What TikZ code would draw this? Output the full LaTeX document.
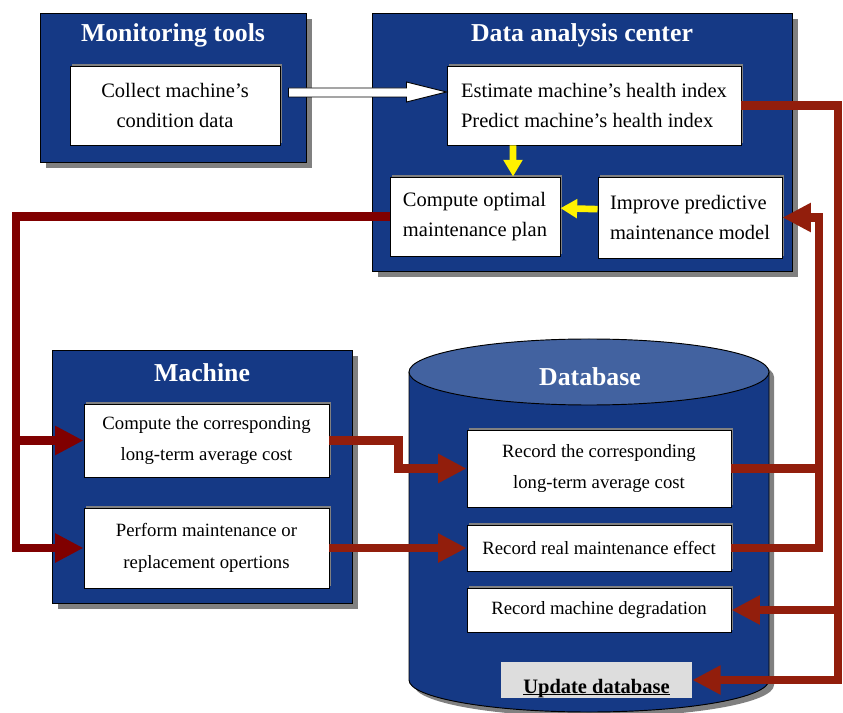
\documentclass[tikz,border=0pt]{standalone}
\usepackage{fontspec}
\setmainfont{Liberation Serif}
\usetikzlibrary{arrows.meta,shadows,calc}

\definecolor{frameblue}{RGB}{21,57,133}
\definecolor{lidblue}{RGB}{66,98,160}
\definecolor{shadowgray}{RGB}{128,128,128}
\definecolor{plandark}{RGB}{128,0,0}
\definecolor{recred}{RGB}{146,30,12}
\definecolor{updgray}{RGB}{221,221,221}

\begin{document}
\begin{tikzpicture}[x=0.03cm,y=-0.03cm,
  frame/.style={draw,line width=0.8pt,fill=frameblue,inner sep=0pt,
    general shadow={fill=shadowgray,shadow xshift=0.18cm,shadow yshift=-0.18cm}},
  task/.style={draw,line width=0.8pt,fill=white,inner sep=0pt,
    general shadow={fill=shadowgray,shadow xshift=0.06cm,shadow yshift=0.06cm},
    font=\fontsize{17.5}{25.5}\selectfont},
  dbtask/.style={task,align=center,font=\fontsize{16}{27}\selectfont},
  title/.style={text=white,font=\fontsize{22}{26}\selectfont\bfseries},
  planwire/.style={plandark,line width=0.25cm},
  recwire/.style={recred,line width=0.25cm},
  planline/.style={planwire,-{Triangle[length=0.85cm,width=0.82cm]}},
  recline/.style={recwire,-{Triangle[length=0.85cm,width=0.82cm]}},
  flowarrow/.style={yellow,line width=0.2cm,-{Triangle[length=0.5cm,width=0.55cm]}}]

\useasboundingbox (0,0) rectangle (843,713);

% monitoring tools
\node[frame,minimum width=7.98cm,minimum height=4.47cm] (mon) at (173,87.5) {};
\node[title] (montitle) at (173,35) {Monitoring tools};
\node[task,align=center,minimum width=6.3cm,minimum height=2.37cm] (collect) at (175,105.5) {Collect machine's\\condition data};

% data analysis center
\node[frame,minimum width=12.6cm,minimum height=7.74cm] (dac) at (582,142) {};
\node[title] (dactitle) at (582,35) {Data analysis center};
\node[task,align=left,minimum width=8.82cm,minimum height=2.37cm] (est) at (594,105.5) {Estimate machine's health index\\Predict machine's health index};
\node[task,align=left,minimum width=5.1cm,minimum height=2.37cm] (opt) at (475,216.5) {Compute optimal\\maintenance plan};
\node[task,align=left,minimum width=5.52cm,minimum height=2.43cm] (imp) at (690,217.5) {Improve predictive\\maintenance model};

% machine
\node[frame,minimum width=9cm,minimum height=7.59cm] (mach) at (202,476.5) {};
\node[title] (machtitle) at (202,373) {Machine};
\node[dbtask,minimum width=7.35cm,minimum height=2.19cm] (cost) at (206.5,440.5) {Compute the corresponding\\long-term average cost};
\node[dbtask,minimum width=7.35cm,minimum height=2.4cm] (perf) at (206.5,548) {Perform maintenance or\\replacement opertions};

% database
\fill[shadowgray] (414,377) -- (414,685) arc[start angle=180,end angle=360,x radius=5.4cm,y radius=0.96cm]
  -- (774,377) arc[start angle=0,end angle=180,x radius=5.4cm,y radius=0.99cm] -- cycle;
\draw[line width=0.8pt,fill=frameblue] (409,372) -- (409,680) arc[start angle=180,end angle=360,x radius=5.4cm,y radius=0.96cm] -- (769,372);
\draw[line width=0.8pt,fill=lidblue] (589,372) ellipse[x radius=5.4cm,y radius=0.99cm];
\node[title] (dbtitle) at (590,377) {Database};
\node[dbtask,minimum width=7.92cm,minimum height=2.31cm] (rcost) at (599,468.5) {Record the corresponding\\long-term average cost};
\node[dbtask,minimum width=7.92cm,minimum height=1.38cm] (rreal) at (599,548) {Record real maintenance effect};
\node[dbtask,minimum width=7.92cm,minimum height=1.32cm] (rdeg) at (599,610) {Record machine degradation};
\node[fill=updgray,inner sep=0pt,minimum width=5.73cm,minimum height=1.08cm,
  font=\fontsize{17.5}{21}\selectfont\bfseries] (upd) at (596.5,680) {\rule{0pt}{0.85cm}\underline{\smash{Update database}}};

% condition data goes to the analysis
\draw[line width=0.8pt,fill=white] ($(collect.east)+(8,-17.5)$) -- ($(est.west)+(-40,-17.5)$)
  -- ($(est.west)+(-40,-23.5)$) -- ($(est.west)+(0,-13.5)$) -- ($(est.west)+(-40,-3.5)$)
  -- ($(est.west)+(-40,-8.5)$) -- ($(collect.east)+(8,-8.5)$) -- cycle;

% inside the analysis center
\draw[flowarrow] ([xshift=-2.43cm]est.south) -- ([xshift=1.14cm]opt.north);
\draw[flowarrow] ([yshift=0.25cm]imp.west) -- ([yshift=0.25cm]opt.east);

% plan sent to the machine
\coordinate (lbus) at (16,440.5);
\draw[planline] (opt.west) -| (lbus) -- (cost.west);
\draw[planline] (lbus) |- (perf.west);

% machine results into the database
\draw[recline] (cost.east) -- ++(69,0) |- (rcost.west);
\draw[recline] (perf.east) -- (rreal.west);

% database back to the model
\coordinate (mbus) at (819,468.5);
\draw[recline] (rreal.east) -| (mbus) |- (imp.east);
\draw[recwire] (rcost.east) -- (mbus);

% health index into the database
\coordinate (obus) at (838,610);
\draw[recline] (est.east) -| (obus) |- (upd.east);
\draw[recline] (obus) -- (rdeg.east);
\end{tikzpicture}
\end{document}
